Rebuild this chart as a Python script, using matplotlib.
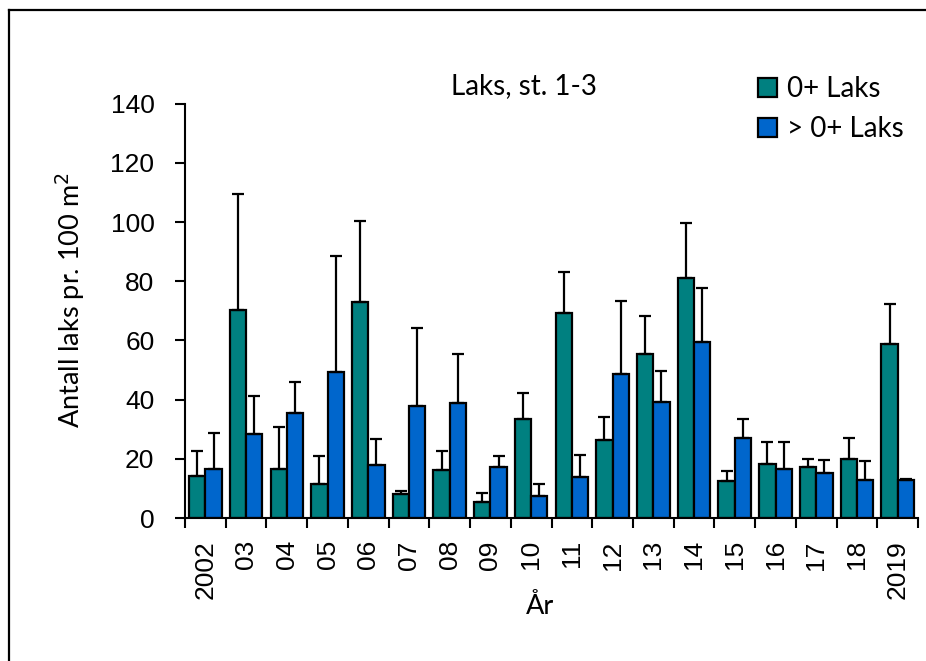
import numpy as np
import matplotlib
matplotlib.use("Agg")
import matplotlib.pyplot as plt
from matplotlib.lines import Line2D
from matplotlib.patches import Patch

# Data
years = ['2002', '03', '04', '05', '06', '07', '08', '09', '10', '11',
         '12', '13', '14', '15', '16', '17', '18', '2019']
laks0 = [14.3, 70.4, 16.4, 11.4, 73.0, 8.1, 16.1, 5.5, 33.6, 69.2,
         26.5, 55.3, 81.2, 12.6, 18.2, 17.4, 20.1, 58.7]
sd0 = [8.3, 39.2, 14.3, 9.4, 27.3, 0.9, 6.7, 2.9, 8.8, 13.9,
       7.5, 12.8, 18.4, 3.3, 7.5, 2.7, 7.1, 13.7]
laks1 = [16.5, 28.4, 35.5, 49.3, 17.8, 37.9, 38.8, 17.3, 7.5, 13.8,
         48.5, 39.3, 59.5, 26.9, 16.6, 15.1, 12.7, 12.8]
sd1 = [12.2, 12.9, 10.3, 39.3, 9.0, 26.3, 16.5, 3.7, 4.1, 7.6,
       24.9, 10.5, 18.3, 6.7, 9.1, 4.5, 6.6, 0.5]

teal = '#008080'
blue = '#0066CC'
label_font = 'Lato'
tick_font = 'Liberation Sans'

fig = plt.figure(figsize=(9.26, 6.61), dpi=100)
ax = fig.add_axes([0.1998, 0.2163, 0.7916, 0.6268])

x = np.arange(len(years))
w = 0.4
zeros = np.zeros(len(years))
err_style = dict(ecolor='black', elinewidth=1.6, capsize=4, capthick=1.6)
ax.bar(x - w / 2, laks0, w, color=teal, edgecolor='black', linewidth=1.6,
       yerr=[zeros, sd0], error_kw=err_style, zorder=2)
ax.bar(x + w / 2, laks1, w, color=blue, edgecolor='black', linewidth=1.6,
       yerr=[zeros, sd1], error_kw=err_style, zorder=2)

ax.set_xlim(-0.5, len(years) - 0.5)
ax.set_ylim(0, 140)
ax.set_yticks(np.arange(0, 141, 20))

ax.set_xticks(x)
ax.set_xticklabels(years, rotation=90, fontsize=19, family=tick_font)
ax.set_xticks(np.arange(-0.5, len(years), 1), minor=True)
ax.tick_params(axis='x', which='major', length=0, pad=16)
ax.tick_params(axis='x', which='minor', length=7, width=1.5, direction='out')
ax.tick_params(axis='y', length=7, width=1.5, direction='out', pad=15)
for t in ax.get_yticklabels():
    t.set_fontsize(19)
    t.set_family(tick_font)

for s in ['top', 'right']:
    ax.spines[s].set_visible(False)
for s in ['left', 'bottom']:
    ax.spines[s].set_linewidth(1.5)

fig.text(0.0756, 0.546, 'Antall laks pr. 100 m$^2$', rotation=90, ha='center', va='center',
         fontsize=19.5, family=label_font)
fig.text(0.583, 0.082, 'År', ha='center', va='center', fontsize=19.5, family=label_font)
fig.text(0.566, 0.870, 'Laks, st. 1-3', ha='center', va='center', fontsize=20, family=label_font)

handles = [Patch(facecolor=teal, edgecolor='black', linewidth=1.6),
           Patch(facecolor=blue, edgecolor='black', linewidth=1.6)]
leg = fig.legend(handles, ['0+ Laks', '> 0+ Laks'], loc='upper left',
                 bbox_to_anchor=(0.8186, 0.885), frameon=False,
                 prop={'family': label_font, 'size': 20},
                 handlelength=0.68, handleheight=0.68, handletextpad=0.35,
                 labelspacing=0.52, borderpad=0, borderaxespad=0)

# outer border of the chart area (left and top edges visible)
fig.add_artist(Line2D([0.0097, 0.0097], [0, 0.985], color='black', linewidth=1.6,
                      transform=fig.transFigure))
fig.add_artist(Line2D([0.0097, 1.0], [0.985, 0.985], color='black', linewidth=1.6,
                      transform=fig.transFigure))

fig.savefig('out.png', dpi=100)
